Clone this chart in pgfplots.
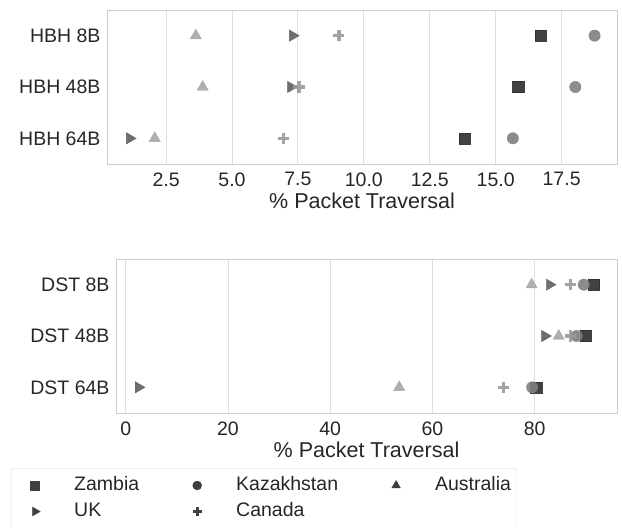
\documentclass[border=0pt]{standalone}
\usepackage{fontspec}
\setmainfont{Liberation Sans}
\usepackage{pgfplots}
\pgfplotsset{compat=1.18}
\definecolor{czam}{HTML}{2E2E2E}
\definecolor{ckaz}{HTML}{808080}
\definecolor{caus}{HTML}{A6A6A6}
\definecolor{cuk}{HTML}{5E5E5E}
\definecolor{ccan}{HTML}{999999}
\definecolor{txt}{HTML}{262626}
\newcommand{\fs}{\fontsize{19.5}{23}\selectfont}
\newcommand{\fl}{\fontsize{21.5}{25}\selectfont}
\pgfplotsset{
  common/.style={
    scale only axis, height=154pt,
    y dir=reverse, ymin=-0.5, ymax=2.5, ytick={0,1,2},
    axis line style={draw=black!20, line width=0.8pt},
    xmajorgrids, major grid style={draw=black!13, line width=0.9pt},
    major tick length=0pt,
    tick label style={font=\fs, text=txt},
    label style={font=\fl, text=txt},
    xticklabel style={yshift=-5pt},
    yticklabel style={xshift=-3pt},
    xlabel={\% Packet Traversal},
    xlabel style={yshift=0pt},
    /pgf/number format/assume math mode=true,
  },
  zam/.style={only marks, mark=square*, mark size=5.6pt, color=czam, opacity=0.9},
  kaz/.style={only marks, mark=*, mark size=5.7pt, color=ckaz, opacity=0.9},
  aus/.style={only marks, mark=triangle*, mark size=6.5pt, color=caus, opacity=0.9},
  uk/.style={only marks, mark=triangle*, mark size=6.5pt, mark options={rotate=-90}, color=cuk, opacity=0.9},
  can/.style={only marks, mark=+, mark size=5.6pt, mark options={line width=3.6pt}, color=ccan, opacity=0.9},
  limg/.style={legend image code/.code={%
    \path[draw=none, fill=none] (-21pt,-8pt) rectangle (37pt,8pt);
    \draw[##1] plot coordinates {(0pt,0pt)};}},
}
\begin{document}
\begin{tikzpicture}
\path[use as bounding box] (0,0) rectangle (622pt,528pt);
\begin{axis}[common, at={(107pt,364pt)}, anchor=south west, width=510pt,
  xmin=0.26, xmax=19.6,
  xtick={2.5,5,7.5,10,12.5,15,17.5},
  xticklabel style={/pgf/number format/.cd, fixed, fixed zerofill, precision=1},
  yticklabels={HBH 8B, HBH 48B, HBH 64B}]
\addplot[zam] coordinates {(16.71,0) (15.85,1) (13.81,2)};
\addplot[kaz] coordinates {(18.75,0) (18.02,1) (15.65,2)};
\addplot[aus] coordinates {(3.63,0) (3.89,1) (2.07,2)};
\addplot[uk] coordinates {(7.30,0) (7.23,1) (1.12,2)};
\addplot[can] coordinates {(9.05,0) (7.54,1) (6.96,2)};
\end{axis}
\begin{axis}[common, at={(116pt,115pt)}, anchor=south west, width=501pt,
  xmin=-1.9, xmax=96.1,
  xtick={0,20,40,60,80},
  yticklabels={DST 8B, DST 48B, DST 64B},
  legend columns=3, legend cell align=left,
  legend style={at={(-0.2096,-0.359)}, anchor=north west, draw=black!15,
    rounded corners=2pt, fill=white, font=\fs, text=txt,
    inner xsep=3pt, inner ysep=6pt, row sep=4pt,
    nodes={inner sep=2pt, text height=14pt, text depth=4pt},
    /tikz/column sep=0pt,
    /tikz/every odd column/.append style={column sep=0pt},
    /tikz/every even column/.append style={column sep=35pt}}]
\addplot[zam, forget plot] coordinates {(91.6,0) (90.0,1) (80.3,2)};
\addplot[kaz, forget plot] coordinates {(89.6,0) (88.2,1) (79.5,2)};
\addplot[aus, forget plot] coordinates {(79.4,0) (84.7,1) (53.5,2)};
\addplot[uk, forget plot] coordinates {(82.9,0) (82.0,1) (2.5,2)};
\addplot[can, forget plot] coordinates {(87.0,0) (87.0,1) (73.9,2)};
\addlegendimage{limg, only marks, mark=square*, mark size=4.5pt, color=black!75}
\addlegendentry{Zambia}
\addlegendimage{limg, only marks, mark=*, mark size=4.5pt, color=black!75}
\addlegendentry{Kazakhstan}
\addlegendimage{limg, only marks, mark=triangle*, mark size=5pt, color=black!75}
\addlegendentry{Australia}
\addlegendimage{limg, only marks, mark=triangle*, mark size=5pt, mark options={rotate=-90}, color=black!75}
\addlegendentry{UK}
\addlegendimage{limg, only marks, mark=+, mark size=4.5pt, mark options={line width=2.8pt}, color=black!75}
\addlegendentry{Canada}
\end{axis}
\end{tikzpicture}
\end{document}
